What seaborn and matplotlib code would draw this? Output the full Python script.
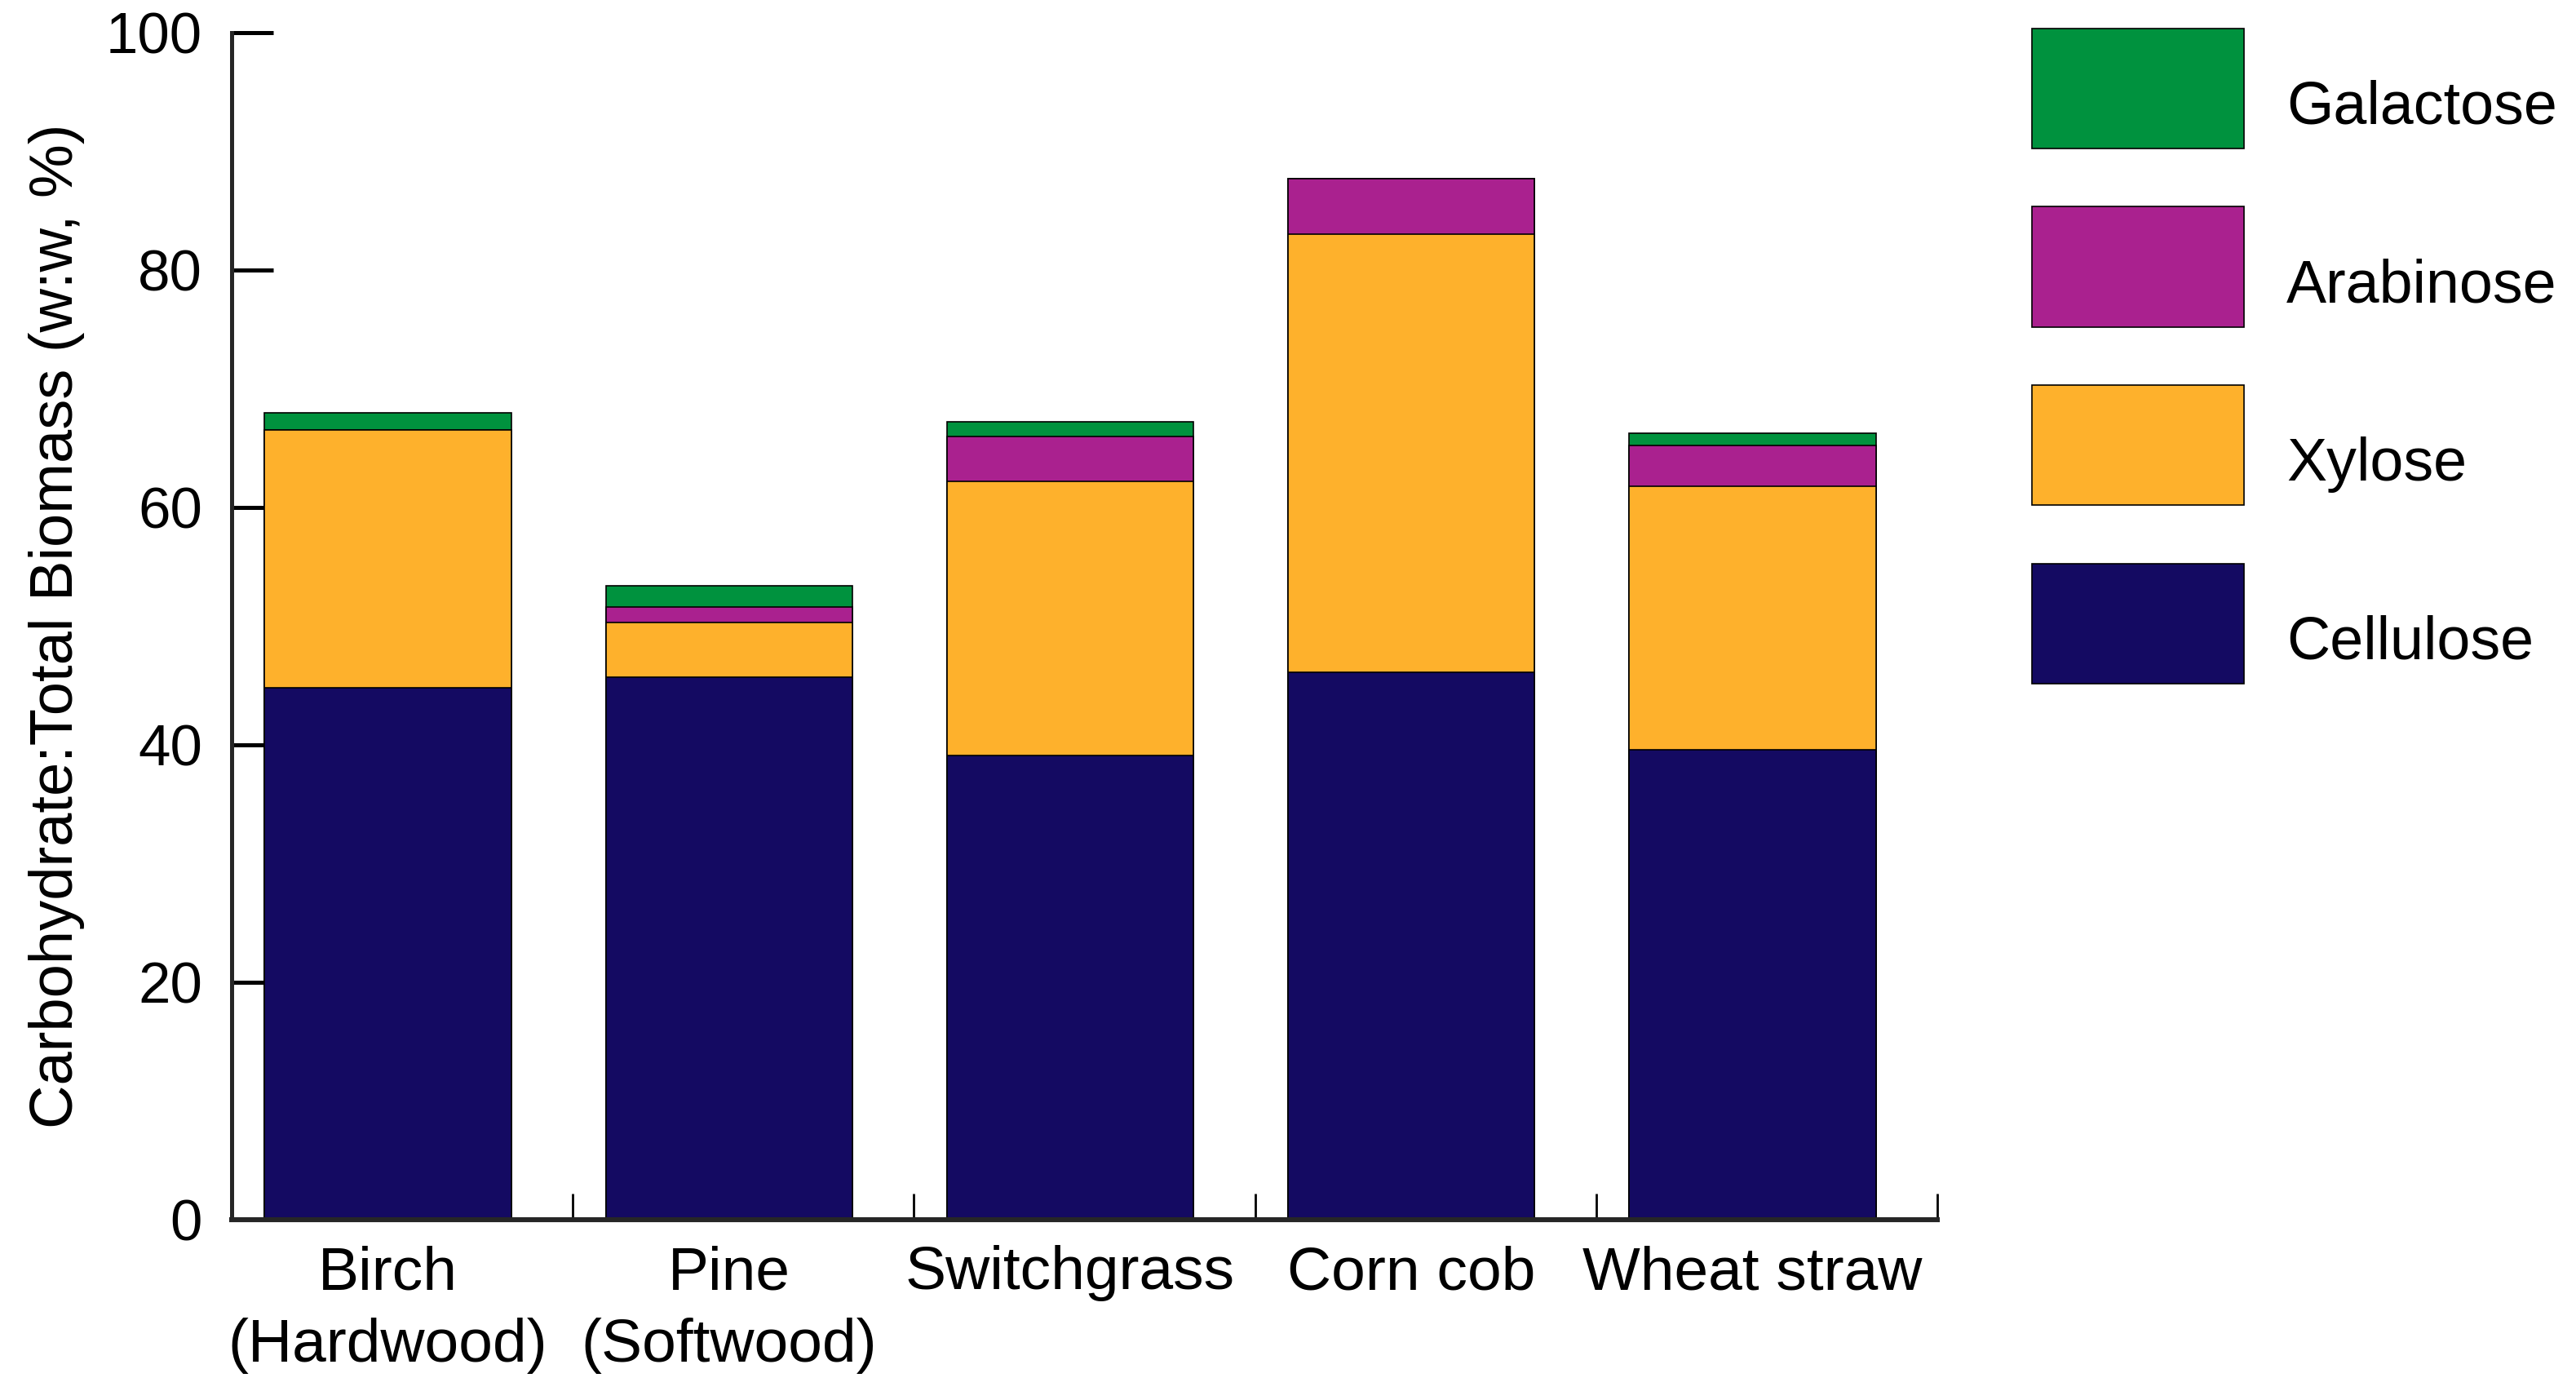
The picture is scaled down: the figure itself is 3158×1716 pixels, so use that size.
import matplotlib
import matplotlib.pyplot as plt
import numpy as np
import pandas as pd
import seaborn as sns
from matplotlib.legend_handler import HandlerPatch
from matplotlib.patches import Patch, Rectangle
from matplotlib.ticker import FixedLocator

matplotlib.use("Agg")
sns.set_style("ticks")
plt.rcParams["font.family"] = ["Liberation Sans", "DejaVu Sans"]
plt.rcParams["text.color"] = "black"
plt.rcParams["axes.labelcolor"] = "black"
plt.rcParams["xtick.color"] = "black"
plt.rcParams["ytick.color"] = "black"

# values (w:w, %)
biomass = ["Birch\n(Hardwood)", "Pine\n(Softwood)", "Switchgrass", "Corn cob", "Wheat straw"]
cellulose = [44.8, 45.7, 39.1, 46.1, 39.6]
xylose = [21.7, 4.6, 23.1, 36.9, 22.2]
arabinose = [0.0, 1.3, 3.8, 4.7, 3.4]
galactose = [1.45, 1.8, 1.2, 0.0, 1.05]

sugars = ["Cellulose", "Xylose", "Arabinose", "Galactose"]
colors = ["#140A62", "#FEB12C", "#AA218F", "#00923E"]
y_ticks = [0, 20, 40, 60, 80, 100]

frame = pd.DataFrame(
    {
        "biomass": biomass,
        "Cellulose": cellulose,
        "Xylose": xylose,
        "Arabinose": arabinose,
        "Galactose": galactose,
    }
)
# running totals so each layer can be drawn from zero, tallest first
stacked = frame[sugars].cumsum(axis=1)
stacked["biomass"] = frame["biomass"]

fig = plt.figure(figsize=(15.79, 8.58), dpi=200)
ax = fig.add_axes([0.0899, 0.1288, 0.6622, 0.8479])

for sugar, color in reversed(list(zip(sugars, colors))):
    sns.barplot(
        data=stacked,
        x="biomass",
        y=sugar,
        color=color,
        width=0.723,
        edgecolor="black",
        linewidth=0.6,
        saturation=1,
        ax=ax,
    )

ax.set_axisbelow(True)
ax.set_xlim(-0.458, len(biomass) - 0.458)
ax.set_ylim(0, 100)
ax.set_yticks(y_ticks)
ax.set_xlabel("")
ax.set_ylabel("Carbohydrate:Total Biomass (w:w, %)", fontsize=26.7, labelpad=0)
ax.yaxis.set_label_coords(-0.086, 0.5)

for side in ("top", "right"):
    ax.spines[side].set_visible(False)
ax.spines["left"].set_linewidth(1.8)
ax.spines["bottom"].set_linewidth(2.2)

ax.tick_params(axis="y", direction="in", length=18.5, width=1.8, pad=13, labelsize=25.5)
ax.tick_params(axis="x", which="major", length=0, pad=11.2, labelsize=27)
ax.xaxis.set_minor_locator(FixedLocator(np.arange(len(biomass)) + 0.542))
ax.tick_params(axis="x", which="minor", direction="in", length=11.5, width=1.0)
for label in ax.get_xticklabels():
    label.set_linespacing(1.37)


def legend_box(legend, orig_handle, xdescent, ydescent, width, height, fontsize):
    # swatch sits a little higher than the text baseline than matplotlib's default
    return Rectangle((-xdescent, -0.41 * fontsize), width, 2.0 * fontsize)


handles = [
    Patch(facecolor=color, edgecolor="black", linewidth=0.6, label=sugar)
    for sugar, color in zip(sugars, colors)
][::-1]
fig.legend(
    handles=handles,
    loc="upper left",
    bbox_to_anchor=(0.7888, 0.9673),
    frameon=False,
    fontsize=26.5,
    borderpad=0,
    borderaxespad=0,
    handlelength=3.53,
    handleheight=2.7,
    labelspacing=0.97,
    handletextpad=0.71,
    handler_map={Patch: HandlerPatch(patch_func=legend_box)},
)

fig.savefig("out.png", dpi=200, facecolor="white")
